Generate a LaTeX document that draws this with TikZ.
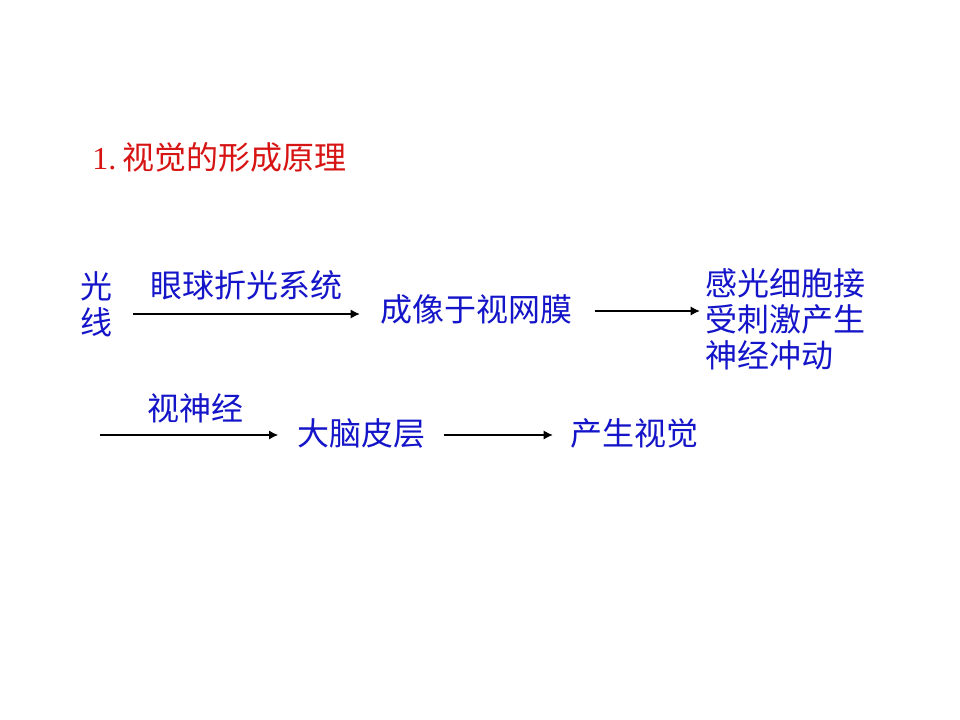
\documentclass[tikz,border=0pt]{standalone}
\usepackage{fontspec}
\setmainfont{Liberation Serif}
\newfontfamily\cjk{Noto Sans CJK SC}
\usetikzlibrary{positioning,arrows.meta}
\definecolor{txtblue}{RGB}{20,20,200}
\definecolor{titlered}{RGB}{215,20,20}

\begin{document}
\begin{tikzpicture}[
    x=0.75pt, y=-0.75pt,
    every node/.style={inner sep=0pt, anchor=west},
    txt/.style={
        font=\cjk\fontsize{24pt}{27pt}\selectfont,
        text=txtblue
    },
    arrow/.style={
        -{Latex[length=7pt,width=7pt]},
        line width=2.2pt
    }
]
\useasboundingbox (0,0) rectangle (960,720);

\node[font=\fontsize{24pt}{28pt}\selectfont, text=titlered] (title) at (92,157)
    {1.\hspace{5pt}{\cjk 视觉的形成原理}};

\node[txt, align=center] (guang) at (80,304) {光\\线};
\node[txt] (cheng) at (380,309) {成像于视网膜};
\node[txt, align=left] (gan) at (705,319) {感光细胞接\\受刺激产生\\神经冲动};

\coordinate (start) at (100,435);
\node[txt] (danao) at (297,433) {大脑皮层};
\node[txt] (shijue) at (570,433) {产生视觉};

\draw[arrow, shorten <=15.5pt, shorten >=15pt]
    ([yshift=-7.5pt]guang.east) -- ([yshift=-3.75pt]cheng.west)
    node[txt, midway, anchor=south, above=9pt] (yanqiu) {眼球折光系统};
\draw[arrow, shorten <=16.5pt, shorten >=3.75pt]
    ([yshift=-1.5pt]cheng.east) -- ([yshift=-1.5pt]cheng.east -| gan.west);

\draw[arrow, shorten >=14pt] (start) -- (start -| danao.west)
    node[txt, midway, anchor=south, above=8pt, xshift=-2pt] (shijing) {视神经};
\draw[arrow, shorten <=13.5pt, shorten >=12.75pt]
    ([yshift=-1.5pt]danao.east) -- ([yshift=-1.5pt]shijue.west);

\end{tikzpicture}
\end{document}
